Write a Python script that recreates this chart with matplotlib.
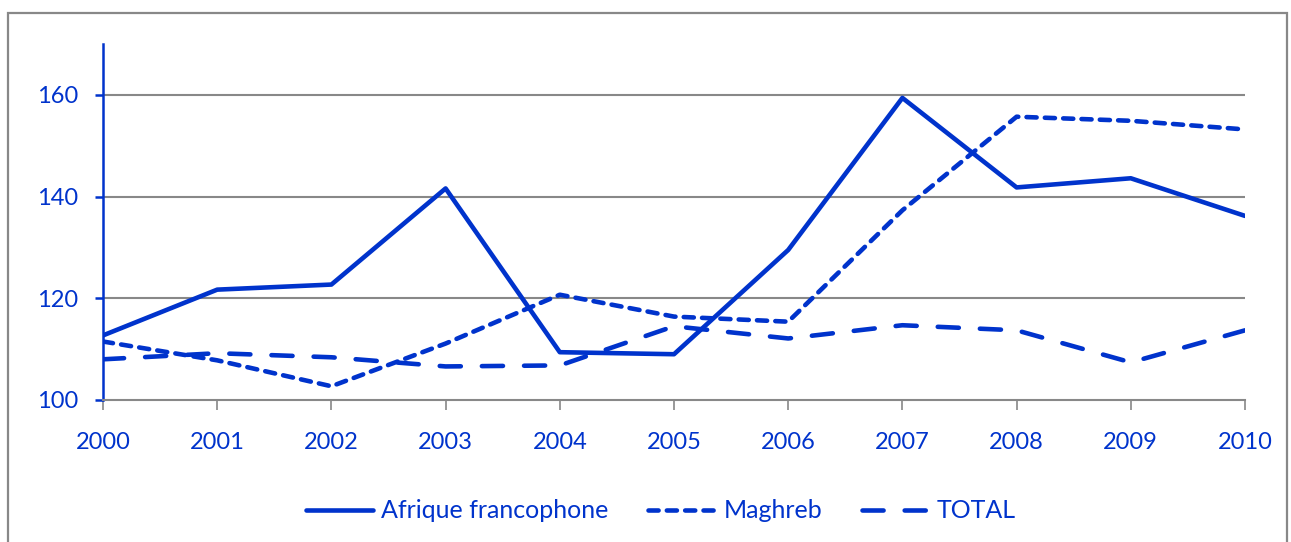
import matplotlib
matplotlib.use("Agg")
import matplotlib.pyplot as plt
from matplotlib.patches import Rectangle

years = [2000, 2001, 2002, 2003, 2004, 2005, 2006, 2007, 2008, 2009, 2010]
afrique = [112.7, 121.7, 122.7, 141.6, 109.4, 109.0, 129.5, 159.4, 141.8, 143.6, 136.2]
maghreb = [111.5, 107.8, 102.7, 111.1, 120.7, 116.4, 115.4, 137.3, 155.7, 154.9, 153.2]
total = [108.0, 109.2, 108.4, 106.6, 106.8, 114.5, 112.1, 114.7, 113.7, 107.4, 113.7]
yticks = [100, 120, 140, 160]

blue = "#0033CC"
gray = "#888888"
plt.rcParams['font.family'] = ['Lato', 'DejaVu Sans']

fig = plt.figure(figsize=(12.91, 5.42), dpi=100)
fig.patches.append(Rectangle((8/1291, -0.05), (1287-8)/1291, 1.05 - 13/542,
                             transform=fig.transFigure, fill=False,
                             edgecolor=gray, linewidth=1.6))
ax = fig.add_axes([103/1291, 142/542, 1142/1291, 356/542])

lw = 3.3
ax.plot(years, afrique, color=blue, lw=lw, solid_capstyle='round', label='Afrique francophone')
ax.plot(years, maghreb, color=blue, lw=lw, dashes=(2.2, 1.8), dash_capstyle='round', label='Maghreb')
ax.plot(years, total, color=blue, lw=lw, dashes=(4.6, 4.6), dash_capstyle='round', label='TOTAL')

ax.set_xlim(2000, 2010)
ax.set_ylim(100, 170)
ax.set_xticks(years)
ax.set_yticks(yticks)
for y in yticks[1:]:
    ax.axhline(y, color=gray, lw=1.5, zorder=0)

for s in ['top', 'right']:
    ax.spines[s].set_visible(False)
ax.spines['left'].set_color(blue)
ax.spines['left'].set_linewidth(1.8)
ax.spines['bottom'].set_color(gray)
ax.spines['bottom'].set_linewidth(1.5)
ax.tick_params(axis='y', colors=blue, labelsize=17, length=6, width=1.8, pad=12)
ax.tick_params(axis='x', color=gray, labelcolor=blue, labelsize=17, length=7, width=1.2, pad=16)

leg = fig.legend(loc='center', bbox_to_anchor=(661/1291, 1 - 511/542), ncol=3, frameon=False,
                 fontsize=18, handlelength=2.7, columnspacing=1.6, handletextpad=0.3)
for t in leg.get_texts():
    t.set_color(blue)

fig.savefig("out.png", dpi=100)
